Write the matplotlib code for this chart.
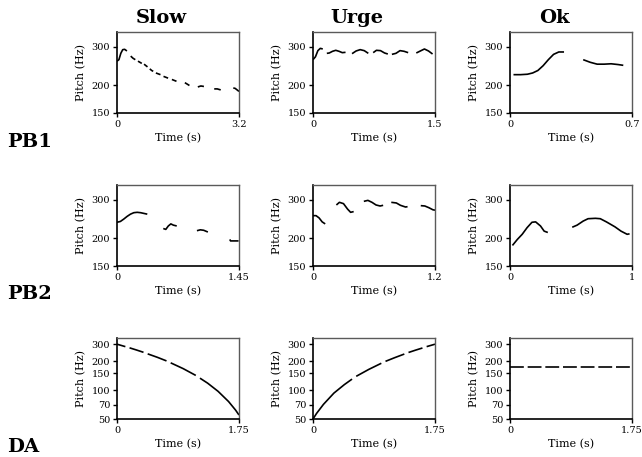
import numpy as np
import matplotlib
matplotlib.use('Agg')
import matplotlib.pyplot as plt

nan = np.nan

#------------------------------------------------------------------------------
# data: time (s) and pitch (Hz), nan marks a gap between voiced stretches
#------------------------------------------------------------------------------
slow_pb1_t = [0.0, 0.05, 0.10, 0.15, 0.20, 0.26, nan, 0.36, 0.42, 0.48, nan,
              0.55, 0.60, 0.65, nan, 0.71, 0.76, 0.80, nan, 0.86, 0.91, 0.95, nan,
              1.02, 1.08, 1.14, nan, 1.22, 1.28, 1.34, nan, 1.44, 1.50, 1.56, nan,
              1.78, 1.84, 1.90, nan, 2.12, 2.20, 2.28, nan, 2.55, 2.63, 2.72, nan,
              3.05, 3.10, 3.15, 3.20]
slow_pb1_f = [258, 262, 280, 291, 292, 287, nan, 272, 266, 262, nan,
              258, 255, 252, nan, 250, 246, 243, nan, 238, 234, 232, nan,
              228, 226, 224, nan, 220, 218, 216, nan, 213, 211, 209, nan,
              206, 203, 200, nan, 197, 199, 198, nan, 193, 193, 191, nan,
              195, 194, 191, 188]

urge_pb1_t = [0.0, 0.03, 0.06, 0.09, 0.12, nan, 0.17, 0.20, 0.24, 0.28, 0.32, 0.36, 0.40, nan,
              0.48, 0.53, 0.58, 0.63, 0.68, nan, 0.74, 0.78, 0.83, 0.88, 0.92, nan,
              0.97, 1.02, 1.07, 1.12, 1.17, nan, 1.27, 1.32, 1.37, 1.42, 1.47]
urge_pb1_f = [262, 270, 288, 295, 293, nan, 280, 281, 286, 289, 286, 282, 283, nan,
              279, 287, 291, 288, 280, nan, 282, 289, 288, 281, 278, nan,
              277, 280, 288, 286, 282, nan, 281, 287, 293, 287, 278]

ok_pb1_t = [0.02, 0.06, 0.10, 0.13, 0.16, 0.19, 0.22, 0.25, 0.28, 0.31, nan,
            0.42, 0.46, 0.50, 0.54, 0.58, 0.62, 0.65]
ok_pb1_f = [224, 224, 225, 228, 234, 246, 262, 277, 284, 284, nan,
            262, 255, 250, 250, 251, 249, 247]

slow_pb2_t = [0.0, 0.04, 0.08, 0.12, 0.16, 0.20, 0.24, 0.28, 0.32, 0.36, nan,
              0.55, 0.58, 0.61, 0.64, 0.67, 0.71, nan, 0.95, 0.99, 1.03, 1.08, nan,
              1.34, 1.35, 1.40, 1.445]
slow_pb2_f = [237, 239, 245, 252, 258, 262, 263, 262, 260, 258, nan,
              222, 220, 228, 233, 230, 228, nan, 217, 219, 218, 214, nan,
              198, 195, 195, 195]

urge_pb2_t = [0.0, 0.03, 0.06, 0.09, 0.12, nan, 0.23, 0.26, 0.30, 0.34, 0.37, 0.40, nan,
              0.50, 0.54, 0.58, 0.62, 0.66, 0.69, nan, 0.77, 0.82, 0.86, 0.91, 0.93, nan,
              1.06, 1.10, 1.14, 1.18, 1.20]
urge_pb2_f = [254, 254, 248, 238, 233, nan, 284, 292, 288, 272, 263, 265, nan,
              295, 298, 292, 284, 281, 283, nan, 292, 290, 283, 278, 279, nan,
              282, 281, 276, 270, 269]

ok_pb2_t = [0.02, 0.06, 0.10, 0.14, 0.18, 0.21, 0.25, 0.28, 0.31, nan,
            0.51, 0.55, 0.60, 0.64, 0.70, 0.74, 0.79, 0.86, 0.91, 0.96, 0.98]
ok_pb2_f = [186, 198, 209, 224, 237, 238, 228, 216, 213, nan,
            225, 230, 240, 246, 247, 246, 238, 226, 216, 209, 210]

slow_da_t = [0.0, 0.12, nan, 0.18, 0.28, 0.38, nan, 0.44, 0.58, 0.71, nan,
             0.77, 0.95, 1.13, nan, 1.19, 1.30, 1.45, 1.60, 1.70, 1.75]
slow_da_f = [300, 283, nan, 275, 261, 247, nan, 238, 219, 201, nan,
             192, 167, 142, nan, 133, 118, 97, 76, 62, 55]

urge_da_t = [0.0, 0.05, 0.15, 0.30, 0.45, 0.56, nan, 0.62, 0.80, 0.98, nan,
             1.04, 1.17, 1.31, nan, 1.37, 1.47, 1.57, nan, 1.63, 1.75]
urge_da_f = [50, 57, 71, 93, 114, 130, nan, 139, 164, 190, nan,
             199, 217, 237, nan, 246, 260, 274, nan, 283, 300]

ok_da_t = [0.0, 1.75]
ok_da_f = [174, 174]

cols = ['Slow', 'Urge', 'Ok']
rows = ['PB1', 'PB2', 'DA']
x_max = [[3.2, 1.5, 0.7], [1.45, 1.2, 1], [1.75, 1.75, 1.75]]
x_lab = [['3.2', '1.5', '0.7'], ['1.45', '1.2', '1'], ['1.75', '1.75', '1.75']]
y_ticks_pb = [150, 200, 300]
y_ticks_da = [50, 70, 100, 150, 200, 300]

series = [[(slow_pb1_t, slow_pb1_f), (urge_pb1_t, urge_pb1_f), (ok_pb1_t, ok_pb1_f)],
          [(slow_pb2_t, slow_pb2_f), (urge_pb2_t, urge_pb2_f), (ok_pb2_t, ok_pb2_f)],
          [(slow_da_t, slow_da_f), (urge_da_t, urge_da_f), (ok_da_t, ok_da_f)]]

#------------------------------------------------------------------------------
# figure
#------------------------------------------------------------------------------
W, H = 642, 457
fig = plt.figure(figsize=(W / 100, H / 100), dpi=100)
plt.rcParams['font.family'] = ['DejaVu Serif']

lefts = [117, 313, 510]
tops = [32, 185, 338]
aw, ah = 122, 81

for r in range(3):
    for c in range(3):
        ax = fig.add_axes([lefts[c] / W, 1 - (tops[r] + ah) / H, aw / W, ah / H])
        t, f = series[r][c]
        if r == 2 and c == 2:
            ax.plot(t, f, color='black', lw=1.2, dashes=(8.3, 2.3))
        else:
            ax.plot(t, f, color='black', lw=1.2, solid_capstyle='butt')
        ax.set_yscale('log')
        if r < 2:
            ax.set_ylim(150, 350)
            ax.set_yticks(y_ticks_pb, [str(v) for v in y_ticks_pb])
        else:
            ax.set_ylim(50, 348)
            ax.set_yticks(y_ticks_da, [str(v) for v in y_ticks_da])
        ax.minorticks_off()
        ax.set_xlim(0, x_max[r][c])
        ax.set_xticks([0, x_max[r][c]], ['0', x_lab[r][c]])
        ax.tick_params(direction='out', length=3, width=1, labelsize=7, pad=2)
        ax.set_xlabel('Time (s)', fontsize=8, labelpad=3)
        ax.set_ylabel('Pitch (Hz)', fontsize=8, labelpad=4)
        for s in ['left', 'bottom']:
            ax.spines[s].set_linewidth(1.2)
            ax.spines[s].set_color('black')
        for s in ['top', 'right']:
            ax.spines[s].set_linewidth(1.0)
            ax.spines[s].set_color('#5a5a5a')

# column titles
for c in range(3):
    cx = lefts[c] + aw / 2 - 17
    fig.text(cx / W, 1 - 23 / H, cols[c], fontsize=14, fontweight='bold',
             ha='center', va='baseline')

# row labels
row_base = [147, 299, 452]
for r in range(3):
    fig.text(7 / W, 1 - row_base[r] / H, rows[r], fontsize=14, fontweight='bold',
             ha='left', va='baseline')

plt.savefig('out.png', dpi=100)
